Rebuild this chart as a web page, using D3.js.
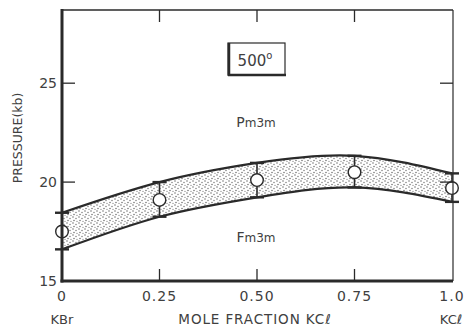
<!DOCTYPE html>
<html>
<head>
<meta charset="utf-8">
<script src="https://cdn.jsdelivr.net/npm/d3@7"></script>
<style>
  body { margin: 0; background: #fff; }
  text { font-family: "DejaVu Sans", Verdana, sans-serif; fill: #404040; }
</style>
</head>
<body>
<div id="chart"></div>
<script>
// values
var fraction = [0, 0.25, 0.5, 0.75, 1.0];
var pressure = [17.5, 19.1, 20.1, 20.5, 19.7];
var upper = [18.45, 20.0, 20.97, 21.33, 20.44];
var lower = [16.6, 18.25, 19.23, 19.73, 19.0];
var xTicks = [0, 0.25, 0.5, 0.75, 1.0];
var xTickLabels = ['0', '0.25', '0.50', '0.75', '1.0'];
var yTicks = [15, 20, 25];

var width = 468, height = 328;
var lineColor = '#2a2a2a';

var svg = d3.select('#chart').append('svg')
    .attr('width', width)
    .attr('height', height);

var x = d3.scaleLinear().domain([0, 1]).range([62, 452]);
var y = d3.scaleLinear().domain([15, 28.7]).range([281, 10]);

// stipple pattern for the band
var defs = svg.append('defs');
var pat = defs.append('pattern')
    .attr('id', 'dots')
    .attr('patternUnits', 'userSpaceOnUse')
    .attr('width', 6)
    .attr('height', 6);
pat.append('rect').attr('width', 6).attr('height', 6).attr('fill', '#fff');
pat.append('circle').attr('cx', 1).attr('cy', 1).attr('r', 0.8).attr('fill', '#777');
pat.append('circle').attr('cx', 4).attr('cy', 2.5).attr('r', 0.8).attr('fill', '#888');
pat.append('circle').attr('cx', 2).attr('cy', 4.5).attr('r', 0.8).attr('fill', '#777');
pat.append('circle').attr('cx', 5).attr('cy', 5.5).attr('r', 0.7).attr('fill', '#999');

var rows = fraction.map(function(f, i) {
    return {f: f, p: pressure[i], hi: upper[i], lo: lower[i]};
});

var area = d3.area()
    .x(function(d) { return x(d.f); })
    .y0(function(d) { return y(d.lo); })
    .y1(function(d) { return y(d.hi); })
    .curve(d3.curveNatural);

svg.append('path')
    .datum(rows)
    .attr('d', area)
    .attr('fill', 'url(#dots)');

var lineHi = d3.line().x(function(d) { return x(d.f); }).y(function(d) { return y(d.hi); }).curve(d3.curveNatural);
var lineLo = d3.line().x(function(d) { return x(d.f); }).y(function(d) { return y(d.lo); }).curve(d3.curveNatural);

svg.append('path').datum(rows).attr('d', lineHi)
    .attr('fill', 'none').attr('stroke', lineColor).attr('stroke-width', 2.2);
svg.append('path').datum(rows).attr('d', lineLo)
    .attr('fill', 'none').attr('stroke', lineColor).attr('stroke-width', 2.2);

// error bars
var bars = svg.append('g');
bars.selectAll('line.v')
    .data(rows).enter().append('line')
    .attr('x1', function(d) { return x(d.f); })
    .attr('x2', function(d) { return x(d.f); })
    .attr('y1', function(d) { return y(d.lo); })
    .attr('y2', function(d) { return y(d.hi); })
    .attr('stroke', lineColor).attr('stroke-width', 1.6);
bars.selectAll('line.top')
    .data(rows).enter().append('line')
    .attr('x1', function(d) { return x(d.f) - 7; })
    .attr('x2', function(d) { return x(d.f) + 7; })
    .attr('y1', function(d) { return y(d.hi); })
    .attr('y2', function(d) { return y(d.hi); })
    .attr('stroke', lineColor).attr('stroke-width', 2.4);
bars.selectAll('line.bot')
    .data(rows).enter().append('line')
    .attr('x1', function(d) { return x(d.f) - 7; })
    .attr('x2', function(d) { return x(d.f) + 7; })
    .attr('y1', function(d) { return y(d.lo); })
    .attr('y2', function(d) { return y(d.lo); })
    .attr('stroke', lineColor).attr('stroke-width', 2.4);

svg.selectAll('circle.pt')
    .data(rows).enter().append('circle')
    .attr('class', 'pt')
    .attr('cx', function(d) { return x(d.f); })
    .attr('cy', function(d) { return y(d.p); })
    .attr('r', 6.3)
    .attr('fill', '#fff')
    .attr('stroke', lineColor)
    .attr('stroke-width', 1.4);

// frame
var x0 = x(0), x1 = x(1) + 1, yb = y(15), yt = y.range()[1];
svg.append('line').attr('x1', x0).attr('x2', x1).attr('y1', yt).attr('y2', yt)
    .attr('stroke', lineColor).attr('stroke-width', 1.6);
svg.append('line').attr('x1', x1).attr('x2', x1).attr('y1', yt).attr('y2', yb)
    .attr('stroke', lineColor).attr('stroke-width', 1.2);
svg.append('line').attr('x1', x0).attr('x2', x0).attr('y1', yt - 1).attr('y2', yb + 1.5)
    .attr('stroke', lineColor).attr('stroke-width', 3);
svg.append('line').attr('x1', x0 - 1.5).attr('x2', x1).attr('y1', yb).attr('y2', yb)
    .attr('stroke', lineColor).attr('stroke-width', 3);

// inward ticks
var inner = xTicks.slice(1, 4);
svg.selectAll('line.xb').data(inner).enter().append('line')
    .attr('x1', x).attr('x2', x).attr('y1', yb).attr('y2', yb - 12)
    .attr('stroke', lineColor).attr('stroke-width', 1.3);
svg.selectAll('line.xt').data(inner).enter().append('line')
    .attr('x1', x).attr('x2', x).attr('y1', yt).attr('y2', yt + 12)
    .attr('stroke', lineColor).attr('stroke-width', 1.3);
svg.selectAll('line.yl').data(yTicks.slice(1)).enter().append('line')
    .attr('x1', x0).attr('x2', x0 + 13).attr('y1', y).attr('y2', y)
    .attr('stroke', lineColor).attr('stroke-width', 1.3);
svg.selectAll('line.yr').data(yTicks.slice(1)).enter().append('line')
    .attr('x1', x1).attr('x2', x1 - 13).attr('y1', y).attr('y2', y)
    .attr('stroke', lineColor).attr('stroke-width', 1.3);

// tick labels
svg.selectAll('text.xl').data(xTicks).enter().append('text')
    .attr('x', function(d) { return x(d); })
    .attr('y', 301)
    .attr('text-anchor', 'middle')
    .attr('font-size', 14)
    .attr('letter-spacing', 1)
    .text(function(d, i) { return xTickLabels[i]; });
svg.selectAll('text.yl').data(yTicks).enter().append('text')
    .attr('x', 57)
    .attr('y', function(d) { return y(d) + 5; })
    .attr('text-anchor', 'end')
    .attr('font-size', 14)
    .text(function(d) { return d; });

// axis titles
svg.append('text')
    .attr('transform', 'translate(22,138) rotate(-90)')
    .attr('text-anchor', 'middle')
    .attr('font-size', 12.5)
    .text('PRESSURE(kb)');
svg.append('text').attr('x', 62).attr('y', 324).attr('text-anchor', 'middle')
    .attr('font-size', 13).text('KBr');
svg.append('text').attr('x', 255).attr('y', 324).attr('text-anchor', 'middle')
    .attr('font-size', 13.5).attr('letter-spacing', 0.9).text('MOLE FRACTION KCℓ');
svg.append('text').attr('x', 451).attr('y', 324).attr('text-anchor', 'middle')
    .attr('font-size', 13).text('KCℓ');

// phase labels
function phase(label, yv) {
    var t = svg.append('text').attr('x', 256).attr('y', yv).attr('text-anchor', 'middle')
        .attr('font-size', 14);
    t.append('tspan').text(label);
    t.append('tspan').attr('font-size', 12).text('m3m');
}
phase('P', 127);
phase('F', 242);

// temperature box
svg.append('rect').attr('x', 228).attr('y', 43).attr('width', 57).attr('height', 32)
    .attr('fill', '#fff').attr('stroke', lineColor).attr('stroke-width', 1.2);
svg.append('line').attr('x1', 229).attr('x2', 229).attr('y1', 43).attr('y2', 76)
    .attr('stroke', lineColor).attr('stroke-width', 2.5);
svg.append('line').attr('x1', 228).attr('x2', 286).attr('y1', 75).attr('y2', 75)
    .attr('stroke', lineColor).attr('stroke-width', 2.5);
var tt = svg.append('text').attr('x', 255).attr('y', 66).attr('text-anchor', 'middle')
    .attr('font-size', 15);
tt.append('tspan').text('500');
tt.append('tspan').attr('font-size', 10).attr('dy', -7).text('o');
</script>
</body>
</html>
